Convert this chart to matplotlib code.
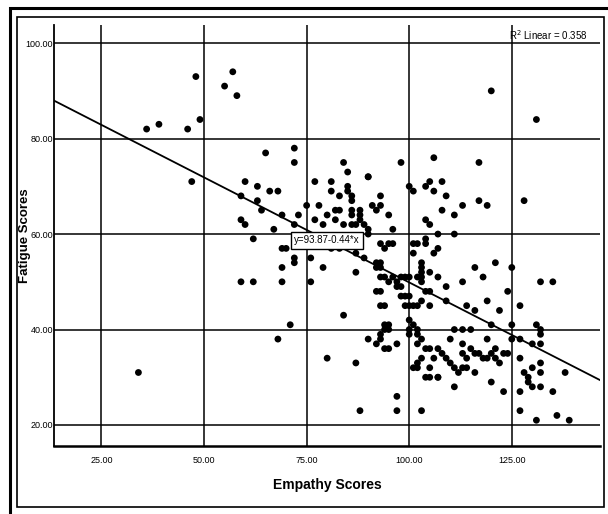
import numpy as np
import matplotlib
matplotlib.use("Agg")
import matplotlib.pyplot as plt
from matplotlib.patches import Rectangle

plt.rcParams['font.family'] = ['Liberation Sans Narrow', 'Liberation Sans', 'DejaVu Sans']

# Empathy (x) / Fatigue (y) scores
empathy = [36, 39, 46, 48, 49, 57, 55, 58, 47, 34,
           65, 60, 63, 66, 68, 59, 63, 64, 59, 60, 67, 62, 69, 69, 59, 62, 69, 68,
           70, 72, 72, 76, 79, 76, 87, 71, 84, 80, 87, 88, 72, 72, 84, 85, 77, 81, 81, 83,
           85, 85, 86, 86, 90, 69, 73, 72, 75, 78, 77, 79, 80, 82, 83, 82, 84, 86, 86, 88,
           88, 88, 89, 90, 90, 87, 86, 81, 83, 87, 89,
           93, 95, 94, 96, 101, 102, 101, 104, 104, 106, 107,
           92, 92, 93, 93, 93, 94, 95, 96, 97, 97, 98, 98, 99, 100,
           92, 93, 94, 93, 98, 99, 100, 99, 100, 101, 102, 100, 101, 100, 100, 102, 103,
           102, 102, 103, 103, 103, 103, 102, 103, 104, 105, 107, 105, 105, 103, 109, 109,
           90, 92, 93, 94, 95, 97, 94, 95, 94, 95, 93,
           105, 104, 103, 102, 101, 102, 105, 104, 107, 105, 97, 97, 103,
           120, 131, 106, 117, 104, 105, 106, 108, 109, 108, 111, 113, 117, 119, 128,
           105, 104, 107, 111, 100, 101, 98, 91, 93, 92, 95, 96, 93, 90,
           113, 116, 118, 121, 125, 124, 119, 114, 116, 122, 127, 132, 135,
           120, 125, 125, 127, 131, 132, 132, 132, 130, 111, 113, 115, 110, 119, 113,
           107, 108, 109, 110, 111, 112, 106, 107, 111, 113, 114, 113, 114,
           115, 116, 117, 118, 119, 120, 121, 121, 122, 123, 124,
           116, 120, 123, 127, 127, 131, 136, 139, 135, 132, 132, 132, 130, 127, 128,
           129, 129, 130, 138]
fatigue = [82, 83, 82, 93, 84, 94, 91, 89, 71, 31,
           77, 71, 70, 69, 69, 68, 67, 65, 63, 62, 61, 59, 57, 53, 50, 50, 50, 38,
           57, 55, 54, 55, 53, 50, 52, 41, 43, 34, 33, 23, 78, 75, 75, 73, 71, 71, 69, 68,
           70, 69, 68, 67, 72, 64, 64, 62, 66, 66, 63, 62, 64, 65, 65, 63, 62, 65, 64, 65,
           64, 63, 62, 61, 60, 62, 62, 57, 57, 56, 55,
           58, 58, 57, 58, 58, 58, 56, 59, 58, 56, 57,
           54, 53, 54, 53, 51, 51, 50, 51, 50, 49, 49, 51, 51, 51,
           48, 48, 45, 45, 47, 47, 47, 45, 45, 45, 45, 42, 41, 40, 39, 40, 38,
           39, 37, 54, 53, 52, 51, 51, 50, 48, 52, 51, 48, 45, 46, 49, 46,
           38, 37, 38, 36, 36, 37, 41, 41, 40, 40, 39,
           36, 36, 34, 33, 32, 32, 30, 30, 30, 32, 26, 23, 23,
           90, 84, 76, 75, 70, 71, 69, 71, 68, 65, 64, 66, 67, 66, 67,
           62, 63, 60, 60, 70, 69, 75, 66, 66, 65, 64, 61, 68, 72,
           50, 53, 51, 54, 53, 48, 46, 45, 44, 44, 45, 50, 50,
           41, 41, 38, 38, 41, 40, 39, 37, 37, 40, 40, 40, 38, 38, 37,
           36, 35, 34, 33, 32, 31, 34, 30, 28, 35, 34, 32, 32,
           36, 35, 35, 34, 34, 35, 36, 34, 33, 35, 35,
           31, 29, 27, 27, 23, 21, 22, 21, 27, 28, 31, 33, 32, 34, 31,
           30, 29, 28, 31]

x_ticks = [25, 50, 75, 100, 125]
y_ticks = [20, 40, 60, 80, 100]
intercept, slope = 93.87, -0.44
r2 = 0.358

fig = plt.figure(figsize=(6.08, 5.14), dpi=100)
W, H = 608, 514

# outer frame (thick) and inner frame (thin), in pixel coords
fig.patches.append(Rectangle((10 / W, -0.02), 1.1, 1 - 8 / H + 0.02, transform=fig.transFigure,
                             fill=False, lw=2.2, ec='black'))
fig.patches.append(Rectangle((16.5 / W, 1 - 507 / H), (603.5 - 16.5) / W, (507 - 17) / H,
                             transform=fig.transFigure, fill=False, lw=1.2, ec='black'))

ax = fig.add_axes([54.3 / W, 1 - 446 / H, (600 - 54.3) / W, (446 - 25) / H])
ax.set_xlim(13.5, 146.5)
ax.set_ylim(15.6, 103.8)

ax.set_xticks(x_ticks)
ax.set_yticks(y_ticks)
ax.set_xticklabels(['%.2f' % v for v in x_ticks])
ax.set_yticklabels(['%.2f' % v for v in y_ticks])
ax.tick_params(length=0, labelsize=6.5)
ax.tick_params(axis='x', pad=7)
ax.tick_params(axis='y', pad=1)
ax.grid(True, color='black', lw=1.1)
ax.set_axisbelow(True)

for s in ['top', 'right']:
    ax.spines[s].set_visible(False)
ax.spines['left'].set_linewidth(1.3)
ax.spines['bottom'].set_linewidth(1.8)

ax.scatter(empathy, fatigue, s=24, c='black', edgecolors='none', zorder=3)

xs = np.array(ax.get_xlim())
ax.plot(xs, intercept + slope * xs, color='black', lw=1.3, zorder=4)

ax.text(80, intercept + slope * 80, 'y=%.2f%.2f*x' % (intercept, slope), ha='center', va='center',
        fontsize=7, zorder=5,
        bbox=dict(boxstyle='square,pad=0.35', fc='white', ec='black', lw=1.0))

fig.text(588 / W, 1 - 35 / H, r'R$^2$ Linear = %.3f' % r2, ha='right', va='center', fontsize=7)

fig.text(327 / W, 1 - 485 / H, 'Empathy Scores', ha='center', va='center',
         fontsize=10, fontweight='bold')
fig.text(25 / W, 1 - 235.5 / H, 'Fatigue Scores', ha='center', va='center', rotation=90,
         fontsize=9.5, fontweight='bold')

fig.savefig('out.png', dpi=100)
